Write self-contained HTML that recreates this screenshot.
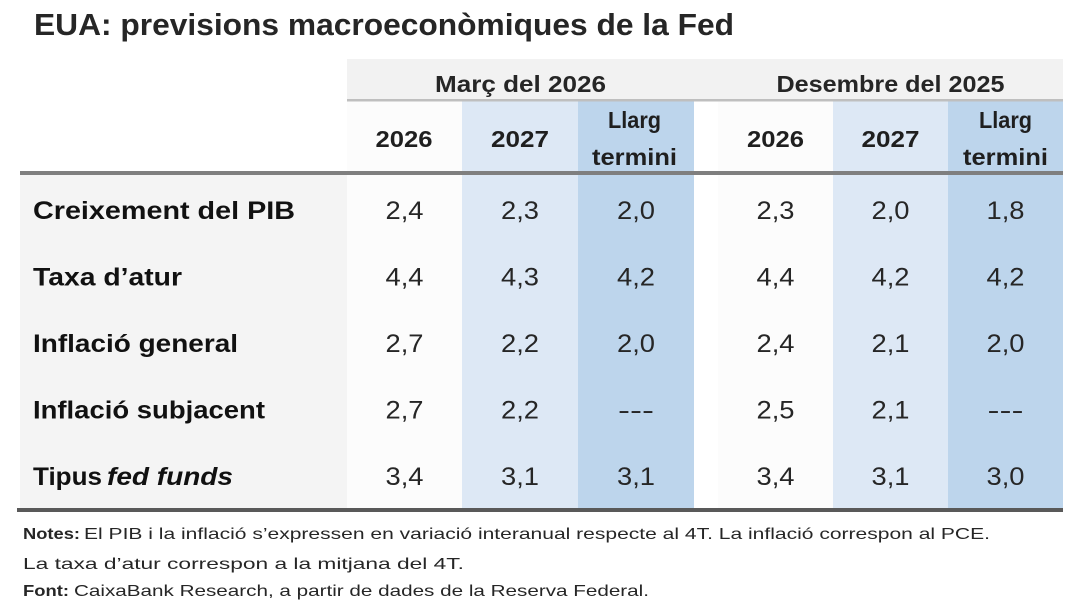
<!DOCTYPE html>
<html>
<head>
<meta charset="utf-8">
<style>
  html,body{margin:0;padding:0;background:#ffffff;}
  svg{display:block;}
  text{font-family:"Liberation Sans",sans-serif;}
</style>
</head>
<body>
<svg width="1077" height="610" viewBox="0 0 1077 610" xmlns="http://www.w3.org/2000/svg">
  <rect x="0" y="0" width="1077" height="610" fill="#ffffff"/>

  <!-- Title -->
  <text x="34" y="35" font-size="31" font-weight="bold" fill="#262626" textLength="700" lengthAdjust="spacingAndGlyphs">EUA: previsions macroeconòmiques de la Fed</text>

  <!-- Header grey band -->
  <rect x="347" y="59" width="716" height="40" fill="#f2f2f2"/>
  <rect x="347" y="99" width="716" height="2.5" fill="#bfbfbf"/>

  <!-- Header column cells -->
  <rect x="347" y="101.5" width="115" height="69.5" fill="#fcfcfc"/>
  <rect x="462" y="101.5" width="116" height="69.5" fill="#dde8f5"/>
  <rect x="578" y="101.5" width="116" height="69.5" fill="#bdd5ec"/>
  <rect x="718" y="101.5" width="115" height="69.5" fill="#fcfcfc"/>
  <rect x="833" y="101.5" width="115" height="69.5" fill="#dde8f5"/>
  <rect x="948" y="101.5" width="115" height="69.5" fill="#bdd5ec"/>

  <!-- Body cells -->
  <rect x="20" y="175" width="327" height="333" fill="#f4f4f4"/>
  <rect x="347" y="175" width="115" height="333" fill="#fcfcfc"/>
  <rect x="462" y="175" width="116" height="333" fill="#dde8f5"/>
  <rect x="578" y="175" width="116" height="333" fill="#bdd5ec"/>
  <rect x="718" y="175" width="115" height="333" fill="#fcfcfc"/>
  <rect x="833" y="175" width="115" height="333" fill="#dde8f5"/>
  <rect x="948" y="175" width="115" height="333" fill="#bdd5ec"/>

  <!-- Lines -->
  <rect x="20" y="171" width="1043" height="4" fill="#7f7f7f"/>
  <rect x="17" y="508" width="1046" height="4" fill="#595959"/>

  <!-- Group headers -->
  <text x="520.5" y="92" font-size="23" font-weight="bold" fill="#262626" text-anchor="middle" textLength="171" lengthAdjust="spacingAndGlyphs">Març del 2026</text>
  <text x="890.5" y="92" font-size="23" font-weight="bold" fill="#262626" text-anchor="middle" textLength="228" lengthAdjust="spacingAndGlyphs">Desembre del 2025</text>

  <!-- Column headers -->
  <g font-size="23" font-weight="bold" fill="#1f1f1f" text-anchor="middle">
    <text x="404" y="147" textLength="57" lengthAdjust="spacingAndGlyphs">2026</text>
    <text x="520" y="147" textLength="58" lengthAdjust="spacingAndGlyphs">2027</text>
    <text x="634.5" y="128" textLength="53" lengthAdjust="spacingAndGlyphs">Llarg</text>
    <text x="634.5" y="165" textLength="85" lengthAdjust="spacingAndGlyphs">termini</text>
    <text x="775.5" y="147" textLength="57" lengthAdjust="spacingAndGlyphs">2026</text>
    <text x="890.5" y="147" textLength="58" lengthAdjust="spacingAndGlyphs">2027</text>
    <text x="1005.5" y="128" textLength="53" lengthAdjust="spacingAndGlyphs">Llarg</text>
    <text x="1005.5" y="165" textLength="85" lengthAdjust="spacingAndGlyphs">termini</text>
  </g>

  <!-- Row labels -->
  <g font-size="25" font-weight="bold" fill="#111111">
    <text x="33" y="219" textLength="262" lengthAdjust="spacingAndGlyphs">Creixement del PIB</text>
    <text x="33" y="285.5" textLength="149" lengthAdjust="spacingAndGlyphs">Taxa d’atur</text>
    <text x="33" y="352" textLength="205" lengthAdjust="spacingAndGlyphs">Inflació general</text>
    <text x="33" y="418.5" textLength="232" lengthAdjust="spacingAndGlyphs">Inflació subjacent</text>
    <text x="33" y="485" textLength="69" lengthAdjust="spacingAndGlyphs">Tipus</text>
    <text x="107" y="485" font-style="italic" textLength="126" lengthAdjust="spacingAndGlyphs">fed funds</text>
  </g>

  <!-- Values -->
  <g font-size="25" fill="#262626" text-anchor="middle">
    <!-- Row 1 -->
    <text x="404.5" y="219" textLength="38" lengthAdjust="spacingAndGlyphs">2,4</text>
    <text x="520" y="219" textLength="38" lengthAdjust="spacingAndGlyphs">2,3</text>
    <text x="636" y="219" textLength="38" lengthAdjust="spacingAndGlyphs">2,0</text>
    <text x="775.5" y="219" textLength="38" lengthAdjust="spacingAndGlyphs">2,3</text>
    <text x="890.5" y="219" textLength="38" lengthAdjust="spacingAndGlyphs">2,0</text>
    <text x="1005.5" y="219" textLength="38" lengthAdjust="spacingAndGlyphs">1,8</text>
    <!-- Row 2 -->
    <text x="404.5" y="285.5" textLength="38" lengthAdjust="spacingAndGlyphs">4,4</text>
    <text x="520" y="285.5" textLength="38" lengthAdjust="spacingAndGlyphs">4,3</text>
    <text x="636" y="285.5" textLength="38" lengthAdjust="spacingAndGlyphs">4,2</text>
    <text x="775.5" y="285.5" textLength="38" lengthAdjust="spacingAndGlyphs">4,4</text>
    <text x="890.5" y="285.5" textLength="38" lengthAdjust="spacingAndGlyphs">4,2</text>
    <text x="1005.5" y="285.5" textLength="38" lengthAdjust="spacingAndGlyphs">4,2</text>
    <!-- Row 3 -->
    <text x="404.5" y="352" textLength="38" lengthAdjust="spacingAndGlyphs">2,7</text>
    <text x="520" y="352" textLength="38" lengthAdjust="spacingAndGlyphs">2,2</text>
    <text x="636" y="352" textLength="38" lengthAdjust="spacingAndGlyphs">2,0</text>
    <text x="775.5" y="352" textLength="38" lengthAdjust="spacingAndGlyphs">2,4</text>
    <text x="890.5" y="352" textLength="38" lengthAdjust="spacingAndGlyphs">2,1</text>
    <text x="1005.5" y="352" textLength="38" lengthAdjust="spacingAndGlyphs">2,0</text>
    <!-- Row 4 -->
    <text x="404.5" y="418.5" textLength="38" lengthAdjust="spacingAndGlyphs">2,7</text>
    <text x="520" y="418.5" textLength="38" lengthAdjust="spacingAndGlyphs">2,2</text>
    <text x="636" y="418.5" textLength="36" lengthAdjust="spacingAndGlyphs">---</text>
    <text x="775.5" y="418.5" textLength="38" lengthAdjust="spacingAndGlyphs">2,5</text>
    <text x="890.5" y="418.5" textLength="38" lengthAdjust="spacingAndGlyphs">2,1</text>
    <text x="1005.5" y="418.5" textLength="36" lengthAdjust="spacingAndGlyphs">---</text>
    <!-- Row 5 -->
    <text x="404.5" y="485" textLength="38" lengthAdjust="spacingAndGlyphs">3,4</text>
    <text x="520" y="485" textLength="38" lengthAdjust="spacingAndGlyphs">3,1</text>
    <text x="636" y="485" textLength="38" lengthAdjust="spacingAndGlyphs">3,1</text>
    <text x="775.5" y="485" textLength="38" lengthAdjust="spacingAndGlyphs">3,4</text>
    <text x="890.5" y="485" textLength="38" lengthAdjust="spacingAndGlyphs">3,1</text>
    <text x="1005.5" y="485" textLength="38" lengthAdjust="spacingAndGlyphs">3,0</text>
  </g>

  <!-- Notes -->
  <g font-size="16" fill="#262626">
    <text x="23" y="539" font-weight="bold" textLength="57" lengthAdjust="spacingAndGlyphs">Notes:</text>
    <text x="84" y="539" textLength="906" lengthAdjust="spacingAndGlyphs">El PIB i la inflació s’expressen en variació interanual respecte al 4T. La inflació correspon al PCE.</text>
    <text x="23" y="569" textLength="441" lengthAdjust="spacingAndGlyphs">La taxa d’atur correspon a la mitjana del 4T.</text>
    <text x="23" y="596" font-weight="bold" textLength="46" lengthAdjust="spacingAndGlyphs">Font:</text>
    <text x="74" y="596" textLength="575" lengthAdjust="spacingAndGlyphs">CaixaBank Research, a partir de dades de la Reserva Federal.</text>
  </g>
</svg>
</body>
</html>
